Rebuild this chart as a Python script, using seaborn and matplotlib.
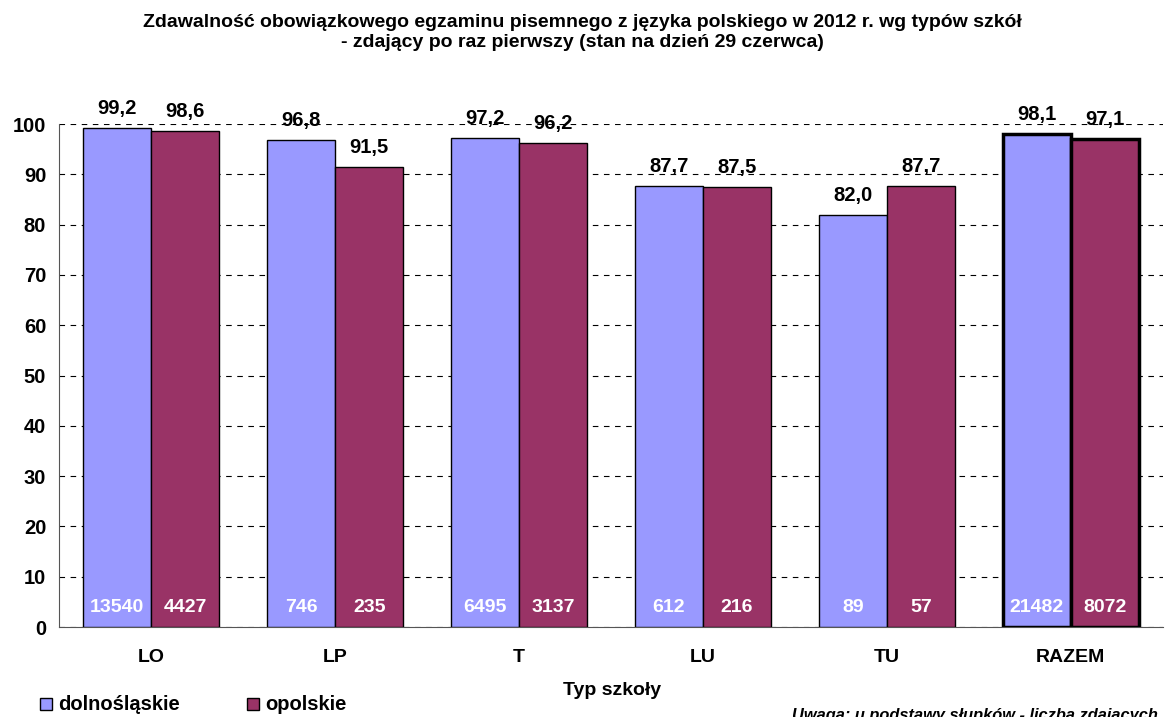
import pandas as pd
import matplotlib.pyplot as plt
import seaborn as sns

# Data
schools = ['LO', 'LP', 'T', 'LU', 'TU', 'RAZEM']
regions = ['dolnośląskie', 'opolskie']
pass_dln = [99.2, 96.8, 97.2, 87.7, 82.0, 98.1]
pass_opo = [98.6, 91.5, 96.2, 87.5, 87.7, 97.1]
count_dln = [13540, 746, 6495, 612, 89, 21482]
count_opo = [4427, 235, 3137, 216, 57, 8072]
colors = ['#9999FF', '#993366']

df = pd.DataFrame({
    'Typ': schools * 2,
    'Region': [regions[0]] * 6 + [regions[1]] * 6,
    'Zdawalnosc': pass_dln + pass_opo,
    'Liczba': count_dln + count_opo,
})

sns.set_style('white')
plt.rcParams['font.family'] = ['Liberation Sans', 'DejaVu Sans']
plt.rcParams['text.color'] = 'black'
plt.rcParams['xtick.color'] = 'black'
plt.rcParams['ytick.color'] = 'black'

fig = plt.figure(figsize=(11.65, 7.17), dpi=100)
ax = fig.add_axes([0.051, 0.1255, 0.947, 0.7015])

sns.barplot(data=df, x='Typ', y='Zdawalnosc', hue='Region', order=schools,
            hue_order=regions, palette=colors, width=0.74, saturation=1,
            edgecolor='black', linewidth=1, ax=ax, legend=False, zorder=3)

ax.set_ylim(0, 100)
ax.set_xlim(-0.5, 5.5)
ax.set_yticks(range(0, 101, 10))
ax.yaxis.grid(True, linestyle=(0, (5, 5)), color='black', linewidth=0.8, zorder=0)
ax.set_axisbelow(True)

# x ticks at category boundaries, labels at centers
ax.set_xticks([i + 0.5 for i in range(-1, 6)], minor=False)
ax.set_xticklabels([])
ax.set_xticks(range(6), minor=True)
ax.set_xticklabels(schools, minor=True, fontsize=14, fontweight='bold')
ax.tick_params(axis='x', which='minor', length=0, pad=16)
ax.tick_params(axis='x', which='major', length=6, direction='out', color='#555555')
ax.tick_params(axis='y', length=6, direction='out', color='#555555', labelsize=14.5)
for lab in ax.get_yticklabels():
    lab.set_fontweight('bold')

for side in ['top', 'right']:
    ax.spines[side].set_visible(False)
ax.spines['left'].set_color('#555555')
ax.spines['bottom'].set_color('#555555')

ax.set_xlabel('')
ax.set_ylabel('')

# bar labels: values on top, counts at the bottom
for ci, cont in enumerate(ax.containers):
    vals = pass_dln if ci == 0 else pass_opo
    cnts = count_dln if ci == 0 else count_opo
    for i, bar in enumerate(cont):
        xc = bar.get_x() + bar.get_width() / 2
        ax.text(xc, vals[i] + 2.0, f'{vals[i]:.1f}'.replace('.', ','),
                ha='center', va='bottom', fontsize=14.5, fontweight='bold')
        ax.text(xc, 3.8, str(cnts[i]), ha='center', va='center',
                fontsize=14, fontweight='bold', color='white')
        if schools[i] == 'RAZEM':
            bar.set_linewidth(2.5)

fig.text(0.5, 0.955, 'Zdawalność obowiązkowego egzaminu pisemnego z języka polskiego w 2012 r. wg typów szkół\n- zdający po raz pierwszy (stan na dzień 29 czerwca)',
         ha='center', va='center', fontsize=14, fontweight='bold', linespacing=1.2)

fig.text(0.525, 0.037, 'Typ szkoły', ha='center', va='center', fontsize=14, fontweight='bold')

# legend at bottom left
for xpos, reg, col in [(0.0343, regions[0], colors[0]), (0.212, regions[1], colors[1])]:
    fig.patches.append(plt.Rectangle((xpos, 0.0098), 0.0103, 0.0167, transform=fig.transFigure,
                                     facecolor=col, edgecolor='black', linewidth=1))
    fig.text(xpos + 0.0155, 0.0175, reg, ha='left', va='center', fontsize=14.5, fontweight='bold')

fig.text(0.68, -0.004, 'Uwaga: u podstawy słupków - liczba zdających', ha='left', va='baseline',
         fontsize=11.8, fontweight='bold', style='italic')

fig.savefig('out.png', dpi=100)
